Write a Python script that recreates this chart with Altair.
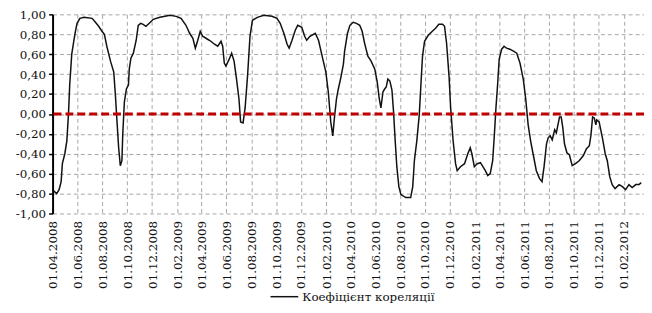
import altair as alt
import pandas as pd

series_name = "Коефіцієнт кореляції"

dates = [
    "2008-04-03", "2008-04-11", "2008-04-17", "2008-04-22", "2008-04-25", "2008-05-01",
    "2008-05-06", "2008-05-10", "2008-05-13", "2008-05-18", "2008-05-23", "2008-05-27",
    "2008-05-31", "2008-06-07", "2008-06-17", "2008-07-07", "2008-07-15", "2008-07-23",
    "2008-07-31", "2008-08-06", "2008-08-12", "2008-08-21", "2008-08-29", "2008-09-02",
    "2008-09-06", "2008-09-10", "2008-09-14", "2008-09-18", "2008-09-20", "2008-09-24",
    "2008-09-29", "2008-10-04", "2008-10-06", "2008-10-10", "2008-10-16", "2008-10-23",
    "2008-10-28", "2008-11-03", "2008-11-09", "2008-11-16", "2008-11-24", "2008-12-04",
    "2008-12-20", "2009-01-14", "2009-01-29", "2009-02-10", "2009-02-22", "2009-03-03",
    "2009-03-11", "2009-03-17", "2009-03-23", "2009-03-29", "2009-04-04", "2009-04-16",
    "2009-04-24", "2009-05-03", "2009-05-11", "2009-05-19", "2009-05-23", "2009-05-27",
    "2009-05-31", "2009-06-08", "2009-06-14", "2009-06-20", "2009-06-26", "2009-07-02",
    "2009-07-06", "2009-07-12", "2009-07-17", "2009-07-23", "2009-07-29", "2009-08-04",
    "2009-08-16", "2009-09-01", "2009-09-21", "2009-10-03", "2009-10-11", "2009-10-20",
    "2009-10-28", "2009-11-02", "2009-11-09", "2009-11-17", "2009-11-23", "2009-12-03",
    "2009-12-10", "2009-12-15", "2009-12-23", "2010-01-05", "2010-01-13", "2010-01-23",
    "2010-01-31", "2010-02-06", "2010-02-12", "2010-02-17", "2010-02-21", "2010-02-26",
    "2010-03-02", "2010-03-09", "2010-03-15", "2010-03-18", "2010-03-25", "2010-03-31",
    "2010-04-08", "2010-04-16", "2010-04-24", "2010-04-30", "2010-05-06", "2010-05-14",
    "2010-05-22", "2010-05-31", "2010-06-06", "2010-06-11", "2010-06-15", "2010-06-20",
    "2010-06-24", "2010-06-28", "2010-07-02", "2010-07-07", "2010-07-12", "2010-07-16",
    "2010-07-20", "2010-07-24", "2010-07-29", "2010-08-03", "2010-08-15", "2010-08-27",
    "2010-09-01", "2010-09-05", "2010-09-11", "2010-09-17", "2010-09-21", "2010-09-25",
    "2010-09-30", "2010-10-09", "2010-10-19", "2010-10-27", "2010-11-04", "2010-11-13",
    "2010-11-18", "2010-11-23", "2010-11-29", "2010-12-03", "2010-12-09", "2010-12-15",
    "2010-12-19", "2010-12-27", "2011-01-06", "2011-01-14", "2011-01-20", "2011-01-24",
    "2011-01-30", "2011-02-06", "2011-02-14", "2011-02-20", "2011-02-26", "2011-03-04",
    "2011-03-10", "2011-03-16", "2011-03-20", "2011-03-24", "2011-03-28", "2011-04-01",
    "2011-04-07", "2011-04-13", "2011-04-19", "2011-04-27", "2011-05-06", "2011-05-14",
    "2011-05-22", "2011-05-30", "2011-06-05", "2011-06-11", "2011-06-17", "2011-06-23",
    "2011-07-01", "2011-07-09", "2011-07-15", "2011-07-20", "2011-07-26", "2011-07-30",
    "2011-08-04", "2011-08-09", "2011-08-15", "2011-08-19", "2011-08-23", "2011-08-27",
    "2011-08-31", "2011-09-04", "2011-09-08", "2011-09-14", "2011-09-20", "2011-09-27",
    "2011-10-05", "2011-10-14", "2011-10-24", "2011-11-01", "2011-11-08", "2011-11-12",
    "2011-11-16", "2011-11-20", "2011-11-24", "2011-11-26", "2011-12-02", "2011-12-10",
    "2011-12-17", "2011-12-22", "2011-12-28", "2012-01-03", "2012-01-10", "2012-01-20",
    "2012-01-28", "2012-02-05", "2012-02-13", "2012-02-21", "2012-03-01", "2012-03-09",
    "2012-03-14",
]

values = [
    -0.77, -0.80, -0.76, -0.68, -0.50, -0.40,
    -0.27, 0.00, 0.29, 0.60, 0.73, 0.83,
    0.91, 0.96, 0.97, 0.96, 0.92, 0.88,
    0.83, 0.80, 0.68, 0.53, 0.42, 0.19,
    -0.08, -0.34, -0.52, -0.47, -0.21, 0.12,
    0.25, 0.29, 0.45, 0.56, 0.61, 0.74,
    0.89, 0.91, 0.90, 0.88, 0.91, 0.95,
    0.97, 0.99, 0.98, 0.96, 0.89, 0.81,
    0.76, 0.66, 0.74, 0.83, 0.78, 0.75,
    0.73, 0.70, 0.68, 0.73, 0.68, 0.51,
    0.48, 0.55, 0.61, 0.53, 0.35, 0.15,
    -0.08, -0.09, 0.06, 0.38, 0.78, 0.94,
    0.97, 0.99, 0.98, 0.96, 0.91, 0.81,
    0.70, 0.66, 0.74, 0.84, 0.89, 0.87,
    0.78, 0.74, 0.78, 0.81, 0.74, 0.56,
    0.42, 0.22, -0.08, -0.22, -0.04, 0.15,
    0.24, 0.37, 0.50, 0.63, 0.81, 0.89,
    0.92, 0.91, 0.89, 0.83, 0.71, 0.58,
    0.53, 0.45, 0.32, 0.15, 0.06, 0.22,
    0.25, 0.27, 0.35, 0.33, 0.24, 0.02,
    -0.27, -0.53, -0.73, -0.81, -0.84, -0.84,
    -0.73, -0.47, -0.27, -0.01, 0.29, 0.58,
    0.73, 0.79, 0.83, 0.86, 0.90, 0.90,
    0.88, 0.71, 0.38, 0.06, -0.27, -0.50,
    -0.57, -0.53, -0.50, -0.40, -0.34, -0.40,
    -0.53, -0.50, -0.49, -0.53, -0.57, -0.62,
    -0.60, -0.47, -0.22, 0.06, 0.29, 0.55,
    0.65, 0.68, 0.66, 0.65, 0.63, 0.61,
    0.51, 0.35, 0.15, -0.11, -0.27, -0.40,
    -0.57, -0.65, -0.68, -0.53, -0.30, -0.24,
    -0.22, -0.26, -0.16, -0.19, -0.11, -0.03,
    -0.03, -0.14, -0.30, -0.39, -0.41, -0.52,
    -0.50, -0.47, -0.42, -0.35, -0.32, -0.21,
    -0.03, -0.04, -0.11, -0.06, -0.08, -0.24,
    -0.40, -0.47, -0.63, -0.71, -0.75, -0.71,
    -0.73, -0.76, -0.71, -0.74, -0.71, -0.71,
    -0.69,
]

y_ticks = [-1.0, -0.8, -0.6, -0.4, -0.2, 0.0, 0.2, 0.4, 0.6, 0.8, 1.0]

x_tick_dates = [
    "2008-04-01", "2008-06-01", "2008-08-01", "2008-10-01", "2008-12-01",
    "2009-02-01", "2009-04-01", "2009-06-01", "2009-08-01", "2009-10-01", "2009-12-01",
    "2010-02-01", "2010-04-01", "2010-06-01", "2010-08-01", "2010-10-01", "2010-12-01",
    "2011-02-01", "2011-04-01", "2011-06-01", "2011-08-01", "2011-10-01", "2011-12-01",
    "2012-02-01",
]
x_domain_dates = ["2008-04-01", "2012-03-21"]
zero_level = [0.0]


def to_ms(s):
    return int(pd.Timestamp(s, tz="UTC").value // 10**6)


df = pd.DataFrame({"date": dates, "value": values, "series": series_name})
zero_df = pd.DataFrame({"value": zero_level})

FONT = "DejaVu Serif"
GRID = "#A6A6A6"

x_enc = alt.X(
    "date:T",
    scale=alt.Scale(type="utc", domain=[to_ms(d) for d in x_domain_dates]),
    axis=alt.Axis(
        values=[to_ms(d) for d in x_tick_dates],
        labelExpr="utcFormat(datum.value, '%d.%m.%Y')",
        labelAngle=270,
        labelAlign="right",
        labelBaseline="middle",
        labelPadding=7,
        labelFont=FONT,
        labelFontSize=12,
        labelColor="#111111",
        ticks=False,
        domain=False,
        grid=True,
        gridColor=GRID,
        gridDash=[4, 3],
        gridWidth=1,
        title=None,
        labelOverlap=False,
    ),
)

y_axis = alt.Axis(
    values=y_ticks,
    labelExpr="replace(replace(format(datum.value, '.2f'), '.', ','), '\u2212', '-')",
    labelFont=FONT,
    labelFontSize=12,
    labelColor="#111111",
    labelPadding=3,
    labelOverlap=False,
    labelFlush=False,
    tickSize=4,
    tickWidth=1.5,
    tickColor="#000000",
    domainColor="#000000",
    domainWidth=2,
    grid=True,
    gridColor=GRID,
    gridDash=[4, 3],
    gridWidth=1,
    title=None,
)
y_scale = alt.Scale(domain=[-1, 1], nice=False, zero=False)

line = alt.Chart(df).mark_line(strokeWidth=1.5).encode(
    x=x_enc,
    y=alt.Y("value:Q", scale=y_scale, axis=y_axis),
    color=alt.Color(
        "series:N",
        scale=alt.Scale(domain=[series_name], range=["#111111"]),
        legend=alt.Legend(
            orient="none",
            legendX=219,
            legendY=270,
            title=None,
            symbolType="stroke",
            symbolSize=784,
            symbolStrokeWidth=1.5,
            labelFont=FONT,
            labelFontSize=12,
            labelColor="#111111",
            labelOffset=3,
            padding=0,
        ),
    ),
)

zero_line = alt.Chart(zero_df).mark_rule(
    color="#C00000", strokeWidth=3, strokeDash=[8, 4]
).encode(y=alt.Y("value:Q", scale=y_scale, axis=y_axis))

chart = (
    alt.layer(line, zero_line)
    .properties(
        width=597,
        height=201,
        autosize=alt.AutoSizeParams(type="none"),
        padding={"left": 45, "top": 5, "right": 0, "bottom": 94},
    )
    .configure_view(stroke=None)
)

chart.save("out.html", embed_options={"renderer": "svg", "actions": False})
